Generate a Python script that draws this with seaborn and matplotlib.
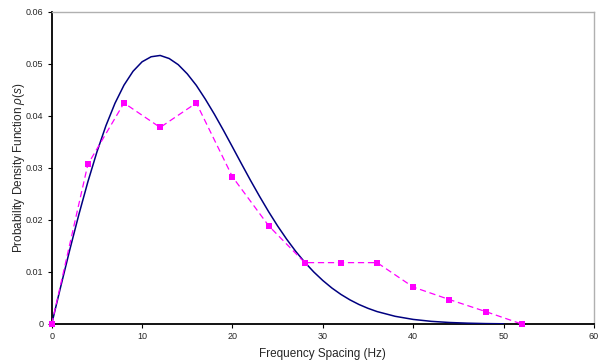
import matplotlib
matplotlib.use("Agg")
import matplotlib.pyplot as plt
import seaborn as sns
import pandas as pd

# Theoretical curve
curve_x = [0, 1, 2, 3, 4, 5, 6, 7, 8, 9, 10, 11, 12, 13, 14, 15, 16, 17, 18,
           19, 20, 21, 22, 23, 24, 25, 26, 27, 28, 29, 30, 31, 32, 33, 34, 35,
           36, 38, 40, 42, 44, 46, 48, 50]
curve_y = [0.0, 0.00721, 0.01427, 0.02102, 0.02733, 0.03307, 0.03813, 0.04244,
           0.04594, 0.04860, 0.05042, 0.05139, 0.05164, 0.05105, 0.04987,
           0.04810, 0.04589, 0.04323, 0.04034, 0.03725, 0.03404, 0.03080,
           0.02761, 0.02454, 0.02160, 0.01884, 0.01630, 0.01397, 0.01187,
           0.01000, 0.00836, 0.00692, 0.00569, 0.00464, 0.00375, 0.00301,
           0.00239, 0.00148, 0.00088, 0.00051, 0.00029, 0.00016, 0.00008,
           0.00004]

# Observed histogram points
obs_x = [0, 4, 8, 12, 16, 20, 24, 28, 32, 36, 40, 44, 48, 52]
obs_y = [0.0, 0.0307, 0.0425, 0.0378, 0.0425, 0.0283, 0.0189, 0.0118,
         0.0118, 0.0118, 0.0071, 0.0047, 0.0024, 0.0]

x_ticks = [0, 10, 20, 30, 40, 50, 60]
y_ticks = [0, 0.01, 0.02, 0.03, 0.04, 0.05, 0.06]
y_tick_labels = ["0", "0.01", "0.02", "0.03", "0.04", "0.05", "0.06"]

sns.set_style("white")
plt.rcParams["font.family"] = ["Liberation Sans", "DejaVu Sans"]
plt.rcParams["mathtext.fontset"] = "custom"
plt.rcParams["mathtext.it"] = "Liberation Sans:italic"
plt.rcParams["mathtext.rm"] = "Liberation Sans"

fig = plt.figure(figsize=(6.04, 3.61), dpi=100)
ax = fig.add_axes([0.0856, 0.1025, 0.8978, 0.8643])

df_curve = pd.DataFrame({"x": curve_x, "y": curve_y})
df_obs = pd.DataFrame({"x": obs_x, "y": obs_y})

sns.lineplot(data=df_curve, x="x", y="y", ax=ax, color="#000080",
             linewidth=1.1, zorder=3)
sns.lineplot(data=df_obs, x="x", y="y", ax=ax, color="#ff00ff",
             linewidth=0.9, dashes=False, linestyle=(0, (5, 3)),
             marker="s", markersize=4.3, markeredgewidth=0,
             markerfacecolor="#ff00ff", zorder=4, clip_on=False)

ax.set_xlim(0, 60)
ax.set_ylim(0, 0.06)
ax.set_xticks(x_ticks)
ax.set_xticklabels([str(v) for v in x_ticks])
ax.set_yticks(y_ticks)
ax.set_yticklabels(y_tick_labels)

ax.tick_params(axis="both", which="major", labelsize=6.5, length=3, width=0.8,
               direction="out", color="black", pad=3, left=True, bottom=True)

for side in ["left", "bottom"]:
    ax.spines[side].set_color("black")
    ax.spines[side].set_linewidth(1.3)
for side in ["top", "right"]:
    ax.spines[side].set_visible(True)
    ax.spines[side].set_color("#b0b0b0")
    ax.spines[side].set_linewidth(1.0)

ax.set_xlabel("Frequency Spacing (Hz)", fontsize=8.5, labelpad=4.5)
ax.set_ylabel(r"Probability Density Function $\rho(s)$", fontsize=8.5, labelpad=-1)

fig.savefig("out.png", dpi=100)
